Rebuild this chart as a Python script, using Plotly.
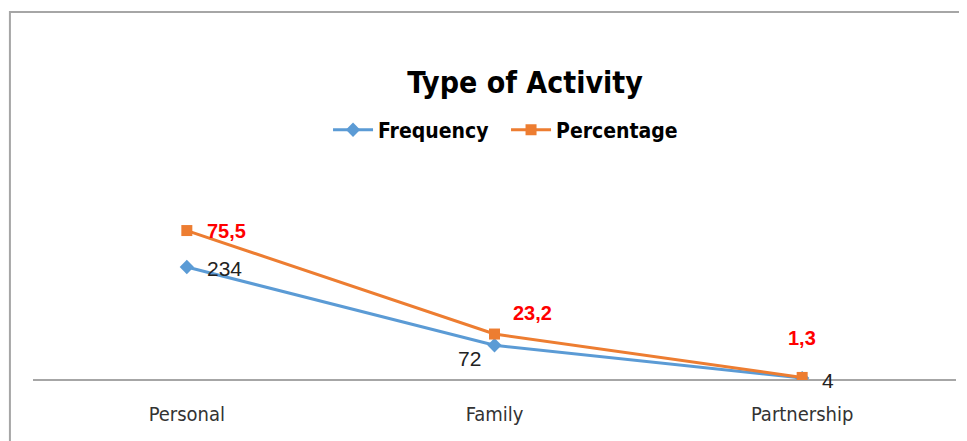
import plotly.graph_objects as go

categories = ["Personal", "Family", "Partnership"]
frequency = [234, 72, 4]
percentage = [75.5, 23.2, 1.3]
freq_labels = ["234", "72", "4"]
pct_labels = ["75,5", "23,2", "1,3"]

# Excel-style stacked line: percentage is drawn on top of frequency
pct_stacked = [f + p for f, p in zip(frequency, percentage)]

BLUE = "#5B9BD5"
ORANGE = "#ED7D31"
FONT = "DejaVu Sans Condensed, Liberation Sans Narrow, sans-serif"
LBL = "Liberation Sans, Arial, sans-serif"

fig = go.Figure()
fig.add_trace(go.Scatter(
    x=categories, y=frequency, name="Frequency", mode="lines+markers",
    line=dict(color=BLUE, width=3),
    marker=dict(symbol="diamond", size=11, color=BLUE),
))
fig.add_trace(go.Scatter(
    x=categories, y=pct_stacked, name="Percentage", mode="lines+markers",
    line=dict(color=ORANGE, width=3),
    marker=dict(symbol="square", size=11, color=ORANGE),
))

# data labels
freq_offsets = [(18, -1, "left"), (-12, -13, "right"), (18, -2, "left")]
pct_offsets = [(18, 0, "left"), (16, 21, "left"), (0, 39, "center")]
for c, y, t, (dx, dy, xa) in zip(categories, frequency, freq_labels, freq_offsets):
    fig.add_annotation(x=c, y=y, text=t, showarrow=False, xshift=dx, yshift=dy,
                       xanchor=xa, yanchor="middle",
                       font=dict(family=LBL, size=21, color="#222222"))
for c, y, t, (dx, dy, xa) in zip(categories, pct_stacked, pct_labels, pct_offsets):
    fig.add_annotation(x=c, y=y, text="<b>" + t + "</b>", showarrow=False, xshift=dx, yshift=dy,
                       xanchor=xa, yanchor="middle",
                       font=dict(family=LBL, size=20, color="#FF0000"))

# outer chart border
fig.add_shape(type="rect", xref="paper", yref="paper",
              x0=-0.025, x1=1.2, y0=-0.4, y1=1.673,
              line=dict(color="#A6A6A6", width=2), layer="below")

fig.update_layout(
    width=967, height=441,
    margin=dict(l=25, r=19, t=152, b=69),
    paper_bgcolor="white", plot_bgcolor="white",
    title=dict(text="<b>Type of Activity</b>", x=517 / 967, xanchor="center",
               y=1 - 74 / 441, yanchor="middle",
               font=dict(family=FONT, size=30, color="#000000")),
    legend=dict(orientation="h", x=0.5125, xanchor="center", y=1.136, yanchor="middle",
                font=dict(family=FONT, size=21, color="#000000", weight="bold"),
                itemwidth=40, entrywidth=123, entrywidthmode="pixels",
                bgcolor="rgba(0,0,0,0)"),
    showlegend=True,
    xaxis=dict(type="category", range=[-0.5, 2.5], showgrid=False, zeroline=False,
               showline=False, ticks="", ticklabelstandoff=20,
               tickfont=dict(family=FONT, size=20, color="#333333")),
    yaxis=dict(range=[0, 455.6], showgrid=False, zeroline=True, zerolinecolor="#A6A6A6",
               zerolinewidth=2, showticklabels=False, showline=False, ticks=""),
)

fig.write_html("out.html")
